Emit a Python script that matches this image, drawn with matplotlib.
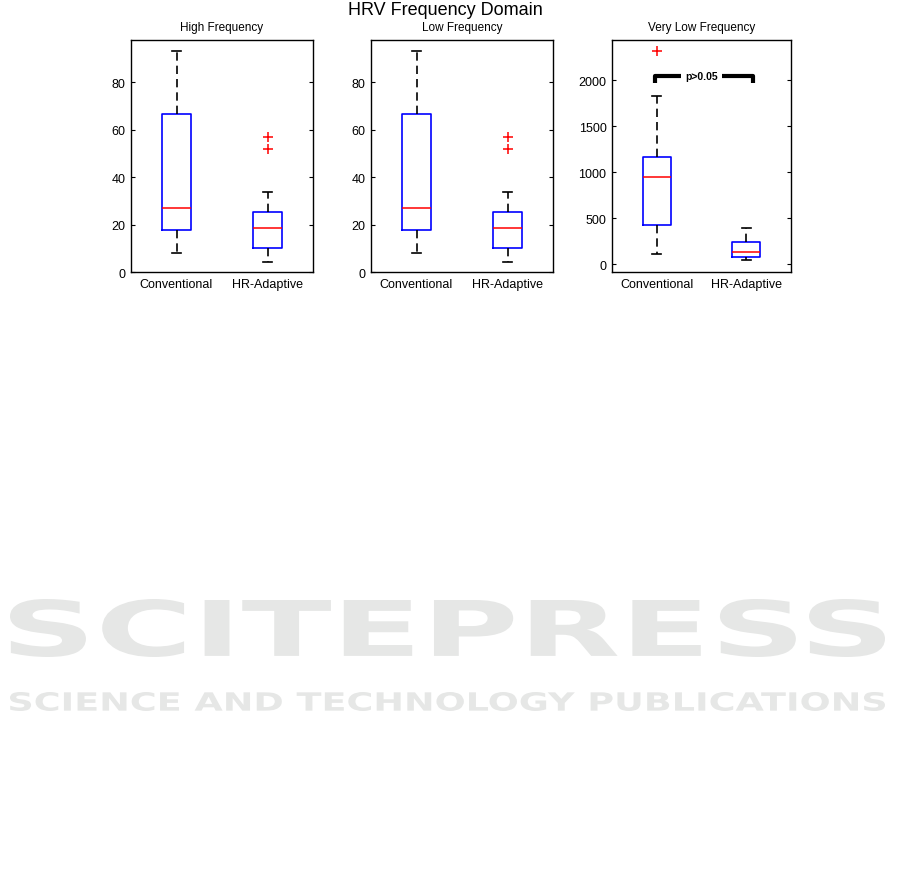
import numpy as np
import matplotlib
matplotlib.use("Agg")
import matplotlib.pyplot as plt
from matplotlib.textpath import TextPath
from matplotlib.patches import PathPatch
from matplotlib.font_manager import FontProperties
from matplotlib.transforms import Affine2D

plt.rcParams["font.family"] = ["Liberation Sans", "DejaVu Sans"]

groups = ["Conventional", "HR-Adaptive"]
panel_titles = ["High Frequency", "Low Frequency", "Very Low Frequency"]

# box stats: low whisker, q1, median, q3, high whisker
hf_conv = [8.1, 17.7, 26.8, 66.4, 93.2]
hf_hra = [4.2, 9.9, 18.6, 25.1, 33.7]
hf_fliers = [[], [56.7, 51.7]]

lf_conv = [8.1, 17.7, 26.8, 66.4, 93.2]
lf_hra = [4.2, 9.9, 18.6, 25.1, 33.7]
lf_fliers = [[], [56.7, 51.7]]

vlf_conv = [109, 431, 949, 1163, 1833]
vlf_hra = [43, 76, 138, 239, 395]
vlf_fliers = [[2319], []]

panels = [
    (hf_conv, hf_hra, hf_fliers, (0, 97.7), [0, 20, 40, 60, 80]),
    (lf_conv, lf_hra, lf_fliers, (0, 97.7), [0, 20, 40, 60, 80]),
    (vlf_conv, vlf_hra, vlf_fliers, (-83, 2440), [0, 500, 1000, 1500, 2000]),
]

W, H = 901, 887
fig = plt.figure(figsize=(W / 100, H / 100), dpi=100)


def stretched_text(txt, x0, y0, x1, y1, color):
    # draw text stretched into a pixel box (top-left origin)
    tp = TextPath((0, 0), txt, size=1, prop=FontProperties(family="DejaVu Sans", weight="bold"))
    bb = tp.get_extents()
    fx0, fx1 = x0 / W, x1 / W
    fy0, fy1 = 1 - y1 / H, 1 - y0 / H
    tr = Affine2D().translate(-bb.x0, -bb.y0).scale((fx1 - fx0) / bb.width, (fy1 - fy0) / bb.height).translate(fx0, fy0)
    fig.patches.append(PathPatch(tp, transform=tr + fig.transFigure, facecolor=color, edgecolor="none", zorder=0))


# faint publisher watermark
stretched_text("SCITEPRESS", 10, 600, 885, 658, "#e6e7e6")
stretched_text("SCIENCE AND TECHNOLOGY PUBLICATIONS", 10, 693, 885, 712, "#e6e7e6")

lefts = [131, 371, 612]
widths = [182, 182, 179]
top_px, bot_px = 41, 273

for i, (conv, hra, fliers, ylim, yticks) in enumerate(panels):
    ax = fig.add_axes([lefts[i] / W, 1 - bot_px / H, widths[i] / W, (bot_px - top_px) / H])
    stats = []
    for j, s in enumerate([conv, hra]):
        stats.append(dict(whislo=s[0], q1=s[1], med=s[2], q3=s[3], whishi=s[4], fliers=fliers[j], label=groups[j]))
    ax.bxp(
        stats,
        positions=[1, 2],
        widths=0.31,
        boxprops=dict(color="blue", lw=1.2),
        medianprops=dict(color="red", lw=1.1),
        whiskerprops=dict(color="black", lw=1.2, linestyle=(0, (5, 3))),
        capprops=dict(color="black", lw=1.2),
        capwidths=0.1,
        flierprops=dict(marker="+", markeredgecolor="red", markersize=7, markeredgewidth=1.1),
    )
    ax.set_xlim(0.5, 2.5)
    ax.set_ylim(*ylim)
    ax.set_yticks(yticks)
    ax.set_yticklabels([str(t) for t in yticks], fontsize=9)
    ax.set_xticks([1, 2])
    ax.set_xticklabels(groups, fontsize=9)
    ax.tick_params(axis="y", direction="in", right=True, length=3, pad=4)
    ax.tick_params(axis="x", length=0, pad=4)
    ax.set_title(panel_titles[i], fontsize=8.5, pad=7)
    for sp in ax.spines.values():
        sp.set_linewidth(1.0)

    if i == 2:
        # significance bracket
        ax.plot([0.98, 0.98, 2.07, 2.07], [1975, 2045, 2045, 1975], color="black", lw=3, solid_capstyle="butt")
        ax.text(1.5, 2045, "p>0.05", ha="center", va="center", fontsize=7.5, fontweight="bold",
                bbox=dict(facecolor="white", edgecolor="none", pad=3))

fig.text(0.494, 0.988, "HRV Frequency Domain", ha="center", va="center", fontsize=13)

fig.savefig("out.png", dpi=100)
